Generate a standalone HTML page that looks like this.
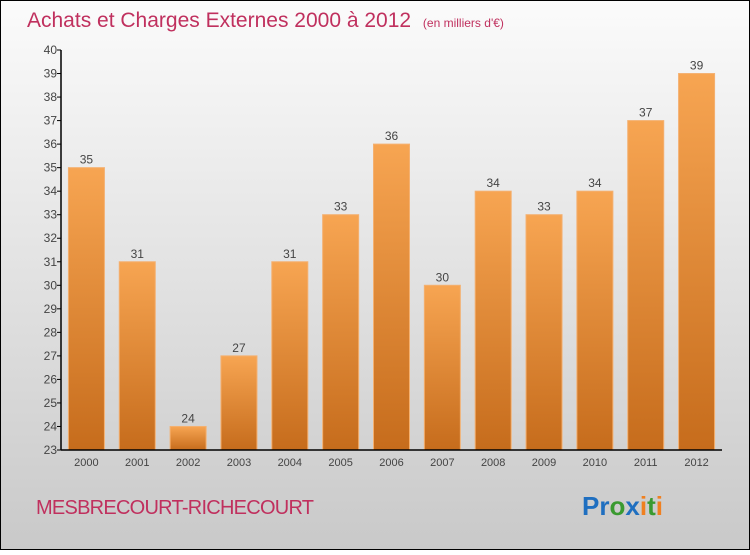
<!DOCTYPE html>
<html><head><meta charset="utf-8"><style>
body{margin:0;width:750px;height:550px;overflow:hidden;font-family:"Liberation Sans",sans-serif}
</style></head><body>
<svg width="750" height="550" xmlns="http://www.w3.org/2000/svg">
<defs>
<linearGradient id="bg" x1="0" y1="0" x2="0" y2="1"><stop offset="0" stop-color="#fbfbfb"/><stop offset="1" stop-color="#c9c9c9"/></linearGradient>
<linearGradient id="bar" x1="0" y1="0" x2="0" y2="1"><stop offset="0" stop-color="#f7a552"/><stop offset="1" stop-color="#c66c1c"/></linearGradient>
</defs>
<rect x="0.5" y="0.5" width="749" height="549" fill="url(#bg)" stroke="#000"/>
<text x="27" y="27" font-size="21" fill="#c0305e">Achats et Charges Externes 2000 à 2012 <tspan font-size="12" dx="6">(en milliers d'€)</tspan></text>
<g id="plot"></g>
<text x="36" y="514" font-size="20" fill="#c0305e" textLength="278">MESBRECOURT-RICHECOURT</text>
<text x="582" y="515" font-size="26" font-weight="bold"><tspan fill="#1f6fc0">Pr</tspan><tspan fill="#3a9a30">o</tspan><tspan fill="#1f6fc0">x</tspan><tspan fill="#f08020">i</tspan><tspan fill="#3a9a30">t</tspan><tspan fill="#f08020">i</tspan></text>
</svg>
<script>
const categories=["2000","2001","2002","2003","2004","2005","2006","2007","2008","2009","2010","2011","2012"];
const values=[35,31,24,27,31,33,36,30,34,33,34,37,39];
const yTicks=[23,24,25,26,27,28,29,30,31,32,33,34,35,36,37,38,39,40];
const NS="http://www.w3.org/2000/svg";
const g=document.getElementById("plot");
const x0=61,x1=722,y0=450,y1=50,yMin=23,yMax=40;
const band=(x1-x0)/categories.length;
const y=v=>y0-(v-yMin)/(yMax-yMin)*(y0-y1);
const xc=i=>x0+band*(i+0.5);
function mk(t,a){const e=document.createElementNS(NS,t);for(const k in a)e.setAttribute(k,a[k]);g.appendChild(e);return e;}
yTicks.forEach(t=>{
 const l=mk("line",{x1:x0-4,x2:x0,y1:y(t),y2:y(t),stroke:"#000"});
 
 
 const tx=mk("text",{x:x0-4,y:y(t)+4,"text-anchor":"end","font-size":"12",fill:"#444"});
 tx.textContent=t;
 
 
});
values.forEach((v,i)=>{
 const w=36;
 const r=mk("rect",{x:xc(i)-w/2,y:y(v),width:w,height:y0-y(v),fill:"url(#bar)",stroke:"#f4b070","stroke-width":"1"});
 
 
 const vt=mk("text",{x:xc(i),y:y(v)-4,"text-anchor":"middle","font-size":"12",fill:"#444"});
 vt.textContent=v;
 
 
 const ct=mk("text",{x:xc(i),y:y0+16,"text-anchor":"middle","font-size":"11",fill:"#444"});
 ct.textContent=categories[i];
 
 
});
const ya=mk("line",{x1:x0,x2:x0,y1:y1,y2:y0,stroke:"#000","stroke-width":"1.5"});


const xa=mk("line",{x1:x0,x2:x1,y1:y0,y2:y0,stroke:"#000","stroke-width":"1.5"});


</script>
</body></html>
